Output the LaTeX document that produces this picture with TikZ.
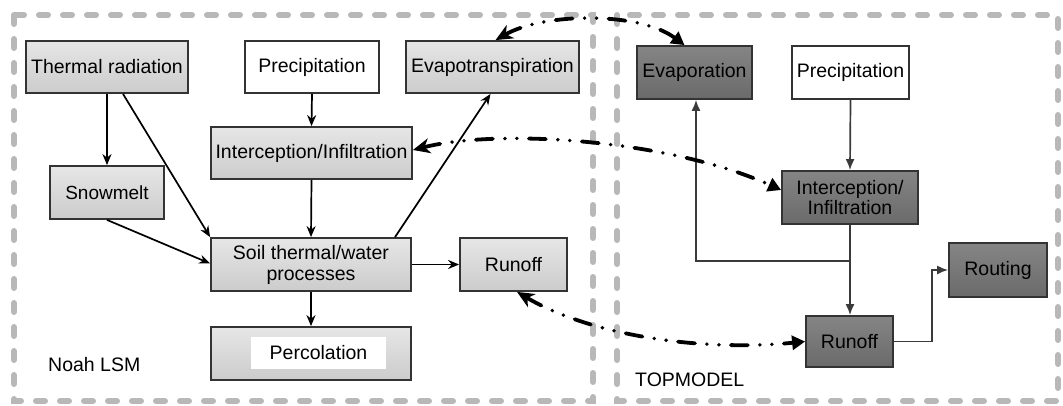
\documentclass[tikz,border=0pt]{standalone}
\usepackage{fontspec}
\setmainfont{Liberation Sans}
\usetikzlibrary{arrows.meta}
\definecolor{edge}{HTML}{333333}
\definecolor{lighttop}{HTML}{E6E6E6}
\definecolor{lightbot}{HTML}{CCCCCC}
\definecolor{darktop}{HTML}{858585}
\definecolor{darkbot}{HTML}{6A6A6A}
\definecolor{rline}{HTML}{3A3A3A}
\definecolor{framegray}{HTML}{B8B8B8}
\newcommand\boxfont{\fontsize{19.5}{21}\selectfont}
\begin{document}
\begin{tikzpicture}[x=1pt,y=-1pt,
  lt/.style={draw=edge, line width=1.8pt, top color=lighttop, bottom color=lightbot, inner sep=0pt, align=center, font=\boxfont},
  dk/.style={draw=edge, line width=1.8pt, top color=darktop, bottom color=darkbot, inner sep=0pt, align=center, font=\boxfont},
  wh/.style={draw=edge, line width=1.8pt, fill=white, inner sep=0pt, align=center, font=\boxfont},
  larr/.style={draw=black, line width=1.7pt, -{Stealth[length=11pt,width=9pt]}},
  rarr/.style={draw=rline, line width=1.7pt, -{Latex[length=11pt,width=9pt]}},
  link/.style={draw=black, line width=3.8pt, line cap=round, dash pattern=on 17pt off 12pt on 0pt off 12pt on 0pt off 12pt, {Stealth[length=17pt,width=15pt,inset=5pt]}-{Triangle[length=13pt,width=14pt]}},
  frame/.style={draw=framegray, line width=6pt, line cap=round, dash pattern=on 9pt off 15pt}
]
\useasboundingbox (0,0) rectangle (1063,405);
% frames
\draw[frame] (14,15) rectangle (593,401);
\draw[frame] (617,15) rectangle (1058,401);
% left nodes
\node[lt, minimum width=162pt, minimum height=52pt] (tr) at (107,67) {Thermal radiation};
\node[wh, minimum width=134pt, minimum height=52pt] (pl) at (312,67) {Precipitation};
\node[lt, minimum width=173pt, minimum height=52pt] (et) at (492.5,67) {Evapotranspiration};
\node[lt, minimum width=201pt, minimum height=52pt] (ii) at (311.5,153) {Interception/Infiltration};
\node[lt, minimum width=114pt, minimum height=53pt, font=\fontsize{19}{21}\selectfont] (sm) at (107,192.5) {Snowmelt};
\node[lt, minimum width=200pt, minimum height=53pt] (soil) at (311,264.5) {Soil thermal/water\\processes};
\node[lt, minimum width=107pt, minimum height=53pt] (ro) at (513.5,264.5) {Runoff};
\node[lt, minimum width=200pt, minimum height=53pt] (pc) at (311,353.5) {};
\node[fill=white, inner sep=0pt, minimum width=135pt, minimum height=32pt, font=\boxfont] (pcin) at (318.5,353) {Percolation};
\node[anchor=west, inner sep=0pt, font=\boxfont] (noah) at (48,365) {Noah LSM};
% right nodes
\node[dk, minimum width=115pt, minimum height=53pt] (ev) at (694.5,72.5) {Evaporation};
\node[wh, minimum width=117pt, minimum height=53pt] (pr) at (850.5,72.5) {Precipitation};
\node[dk, minimum width=136pt, minimum height=53pt, font=\fontsize{19.5}{17.5}\selectfont] (iir) at (850,197.5) {Interception/\\Infiltration};
\node[dk, minimum width=98pt, minimum height=54pt] (rt) at (998,270) {Routing};
\node[dk, minimum width=87pt, minimum height=51pt] (rr) at (849.5,341.5) {Runoff};
\node[anchor=west, inner sep=0pt, font=\boxfont] (topm) at (635,380) {TOPMODEL};
% left connectors
\draw[larr] (tr.south) -- (sm.north);
\draw[larr] ([xshift=16pt]tr.south) -- (soil.north west);
\draw[larr] (sm.south) -- ([yshift=1pt]soil.west);
\draw[larr] (pl.south) -- (ii.north);
\draw[larr] (ii.south) -- (soil.north);
\draw[larr] ([xshift=84pt]soil.north) -- ([xshift=-2pt]et.south);
\draw[larr] (soil.east) -- (ro.west);
\draw[larr] (soil.south) -- (pc.north);
% right connectors
\draw[rarr] (pr.south) -- (iir.north);
\draw[rarr] (iir.south) -- (iir.south |- rr.north);
\coordinate (j) at (iir.south |- 0,261);
\draw[rarr] (j) -| ([xshift=1.5pt]ev.south);
\draw[rarr] (rr.east) -- ++(38,0) |- (rt.west);
% coupling links
\draw[link] ([xshift=3pt]et.north) .. controls (545,12) and (640,12) .. ([xshift=-10pt]ev.north);
\draw[link] ([yshift=3pt]ii.east) .. controls (500,128) and (670,140) .. ([yshift=7.5pt]iir.west);
\draw[link] ([xshift=3.5pt]ro.south) .. controls (590,335) and (700,352) .. (rr.west);
\end{tikzpicture}
\end{document}
